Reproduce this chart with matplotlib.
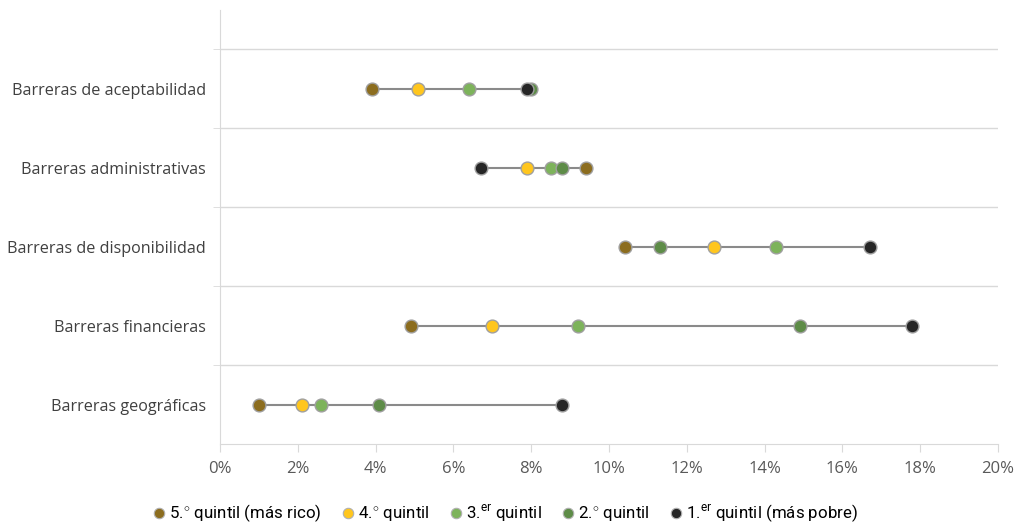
import numpy as np
from matplotlib import pyplot as plt
from matplotlib.lines import Line2D

plt.rcParams['font.family'] = ['Open Sans', 'DejaVu Sans']
plt.rcParams['mathtext.fontset'] = 'custom'
plt.rcParams['mathtext.rm'] = 'Roboto'

categories = ['Barreras de aceptabilidad', 'Barreras administrativas',
              'Barreras de disponibilidad', 'Barreras financieras',
              'Barreras geográficas']

# share of people reporting each barrier, by income quintile (%)
q5 = [3.9, 9.4, 10.4, 4.9, 1.0]     # 5.° quintil (más rico)
q4 = [5.1, 7.9, 12.7, 7.0, 2.1]
q3 = [6.4, 8.5, 14.3, 9.2, 2.6]
q2 = [8.0, 8.8, 11.3, 14.9, 4.1]
q1 = [7.9, 6.7, 16.7, 17.8, 8.8]    # 1.er quintil (más pobre)

series = [q5, q4, q3, q2, q1]
labels = ['5.$^{\\circ}$ quintil (más rico)', '4.$^{\\circ}$ quintil',
          '3.$^{\\mathrm{er}}$ quintil', '2.$^{\\circ}$ quintil',
          '1.$^{\\mathrm{er}}$ quintil (más pobre)']
colors = ['#8c6d1f', '#ffc61e', '#7db35b', '#5e8c48', '#262626']

fig = plt.figure(figsize=(10.26, 5.24), dpi=100)
ax = fig.add_axes([0.2144, 0.1527, 0.7583, 0.8283])

ypos = np.arange(len(categories), 0, -1)
allv = np.array(series)
lo = allv.min(axis=0)
hi = allv.max(axis=0)
ax.hlines(ypos, lo, hi, color='#8a8a8a', lw=1.5, zorder=2)

for vals, col in zip(series, colors):
    ax.scatter(vals, ypos, s=85, color=col, edgecolor='#a0a0a0', linewidth=1.0, zorder=3)

ax.set_xlim(0, 20)
ax.set_ylim(0.5, 6.0)
ax.set_xticks(np.arange(0, 21, 2))
ax.set_xticklabels(['%d%%' % v for v in range(0, 21, 2)], color='#595959', fontsize=12)
ax.set_yticks(ypos)
ax.set_yticklabels(categories, color='#404040', fontsize=11.6)
ax.set_yticks(np.arange(1.5, 6.0, 1.0), minor=True)
ax.tick_params(axis='y', which='major', length=0, pad=10)
ax.tick_params(axis='y', which='minor', length=5, color='#d9d9d9')
ax.tick_params(axis='x', length=6, color='#d9d9d9', pad=6)
ax.grid(axis='y', which='minor', color='#d9d9d9', lw=1)
ax.set_axisbelow(True)

for s in ['top', 'right']:
    ax.spines[s].set_visible(False)
ax.spines['left'].set_color('#d9d9d9')
ax.spines['bottom'].set_color('#d9d9d9')

handles = [Line2D([], [], marker='o', ls='none', markersize=7.5, markerfacecolor=c,
                  markeredgecolor='#b0b0b0', markeredgewidth=0.8) for c in colors]
fig.legend(handles, labels, loc='center', bbox_to_anchor=(0.491, 0.02), ncol=5,
           frameon=False, handletextpad=0.0, columnspacing=1.05, handlelength=1.1,
           prop={'family': 'Roboto', 'size': 12.2})

fig.savefig('out.png', dpi=100)
